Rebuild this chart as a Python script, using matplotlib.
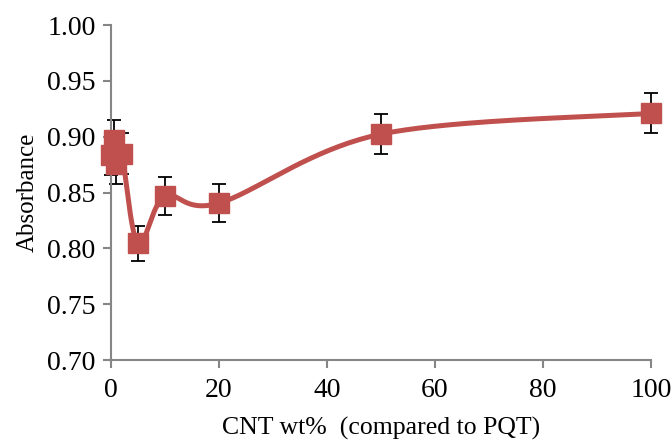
import numpy as np
import matplotlib
matplotlib.use("Agg")
import matplotlib.pyplot as plt

cnt_wt = [0, 0.5, 1, 2, 5, 10, 20, 50, 100]
absorbance = [0.884, 0.897, 0.876, 0.885, 0.8045, 0.8466, 0.8406, 0.9024, 0.921]
err = [0.018, 0.018, 0.018, 0.018, 0.016, 0.017, 0.017, 0.018, 0.018]

x_ticks = [0, 20, 40, 60, 80, 100]
y_ticks = [0.70, 0.75, 0.80, 0.85, 0.90, 0.95, 1.00]

red = "#C0504D"
grey = "#868686"

plt.rcParams['font.family'] = ['Liberation Serif', 'DejaVu Serif']

fig = plt.figure(figsize=(6.72, 4.48), dpi=100)
ax = fig.add_axes([0.165, 0.196, 0.804, 0.748])
ax.set_xlim(0, 100)
ax.set_ylim(0.70, 1.00)


def smooth(xs, ys, n=40):
    # Catmull-Rom style smoothing in display space (like Excel smoothed lines)
    fig.canvas.draw()
    pts = ax.transData.transform(np.column_stack([xs, ys]))
    out = []
    m = len(pts)
    for i in range(m - 1):
        p0 = pts[i - 1] if i > 0 else pts[i]
        p1 = pts[i]
        p2 = pts[i + 1]
        p3 = pts[i + 2] if i + 2 < m else pts[i + 1]
        c1 = p1 + (p2 - p0) / 6.0
        c2 = p2 - (p3 - p1) / 6.0
        t = np.linspace(0, 1, n)[:, None]
        seg = ((1 - t) ** 3) * p1 + 3 * ((1 - t) ** 2) * t * c1 + 3 * (1 - t) * t ** 2 * c2 + t ** 3 * p2
        out.append(seg if i == 0 else seg[1:])
    out = np.vstack(out)
    return ax.transData.inverted().transform(out)


ax.set_xticks(x_ticks)
ax.set_yticks(y_ticks)
ax.set_xticklabels([str(v) for v in x_ticks])
ax.set_yticklabels([f"{v:.2f}" for v in y_ticks])

curve = smooth(cnt_wt, absorbance)
ax.errorbar(cnt_wt, absorbance, yerr=err, fmt='none', ecolor='black',
            elinewidth=1.3, capsize=5, capthick=1.3, zorder=2, clip_on=False)
ax.plot(curve[:, 0], curve[:, 1], color=red, lw=3.6, zorder=3, clip_on=False)
ax.plot(cnt_wt, absorbance, linestyle='none', marker='s', markersize=14,
        color=red, markeredgecolor=red, zorder=4, clip_on=False)

for s in ['top', 'right']:
    ax.spines[s].set_visible(False)
for s in ['left', 'bottom']:
    ax.spines[s].set_color(grey)
    ax.spines[s].set_linewidth(1.5)
ax.tick_params(axis='both', colors=grey, width=1.5, length=6, direction='out',
               labelsize=20, labelcolor='black')
ax.tick_params(axis='x', pad=7)
ax.tick_params(axis='y', pad=5)

ax.set_xlabel("CNT wt%  (compared to PQT)", fontsize=18.5, labelpad=10)
ax.set_ylabel("Absorbance", fontsize=18, labelpad=6)

fig.savefig("out.png", dpi=100)
